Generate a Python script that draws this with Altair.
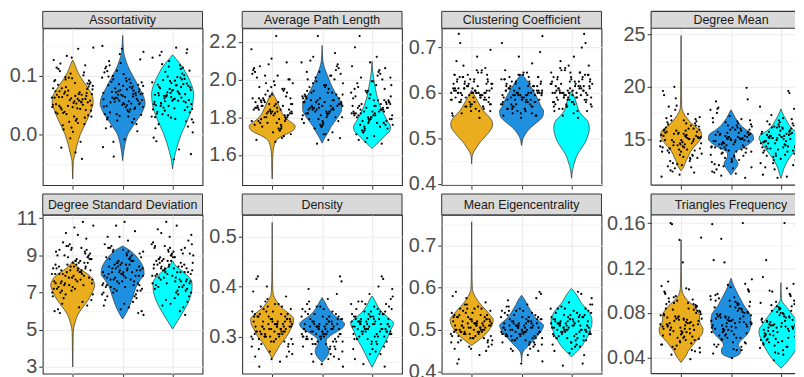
import json
import altair as alt
import pandas as pd

# ---------------- data ----------------
PANEL_TITLES = ["Assortativity", "Average Path Length", "Clustering Coefficient", "Degree Mean",
                "Degree Standard Deviation", "Density", "Mean Eigencentrality", "Triangles Frequency"]
GROUP_NAMES = ["Group 1", "Group 2", "Group 3"]
GROUP_COLORS = ["#EAAD1E", "#1F90E0", "#00FFFF"]

Y_DOMAINS = [[-0.0855, 0.181], [1.441, 2.271], [0.397, 0.7425], [10.6, 25.6],
             [2.64, 11.18], [0.226, 0.543], [0.396, 0.7726], [0.0261, 0.1673]]
Y_MAJOR = [[0.0, 0.1], [1.6, 1.8, 2.0, 2.2], [0.4, 0.5, 0.6, 0.7], [15, 20, 25],
           [3, 5, 7, 9, 11], [0.3, 0.4, 0.5], [0.4, 0.5, 0.6, 0.7], [0.04, 0.08, 0.12, 0.16]]
Y_MINOR = [[-0.05, 0.05, 0.15], [1.5, 1.7, 1.9, 2.1], [0.45, 0.55, 0.65], [12.5, 17.5, 22.5],
           [4, 6, 8, 10], [0.25, 0.35, 0.45], [0.45, 0.55, 0.65, 0.75], [0.06, 0.1, 0.14]]
Y_FORMAT = [".1f", ".1f", ".1f", "d", "d", ".1f", ".1f", ".2f"]

# violin outlines: (value, half width in group units)
assort_vio_a = [(-0.075, 0.0), (-0.06, 0.006), (-0.045, 0.012), (-0.035, 0.04), (-0.02, 0.08), (0.0, 0.15),
                (0.02, 0.26), (0.04, 0.36), (0.055, 0.41), (0.065, 0.40), (0.075, 0.34), (0.09, 0.22),
                (0.105, 0.11), (0.12, 0.04), (0.127, 0.0)]
assort_vio_b = [(-0.044, 0.0), (-0.03, 0.02), (-0.015, 0.05), (0.0, 0.1), (0.02, 0.25), (0.04, 0.40),
                (0.053, 0.45), (0.065, 0.42), (0.08, 0.33), (0.095, 0.24), (0.11, 0.14), (0.125, 0.07),
                (0.14, 0.02), (0.155, 0.008), (0.169, 0.0)]
assort_vio_c = [(-0.058, 0.0), (-0.045, 0.02), (-0.03, 0.06), (-0.015, 0.11), (0.0, 0.17), (0.025, 0.30),
                (0.05, 0.40), (0.07, 0.42), (0.085, 0.38), (0.1, 0.30), (0.115, 0.2), (0.128, 0.08),
                (0.136, 0.0)]
apl_vio_a = [(1.473, 0.0), (1.52, 0.008), (1.58, 0.01), (1.62, 0.02), (1.65, 0.04), (1.68, 0.09), (1.70, 0.2),
             (1.72, 0.36), (1.74, 0.45), (1.755, 0.46), (1.77, 0.40), (1.79, 0.30), (1.81, 0.23), (1.84, 0.17),
             (1.87, 0.12), (1.90, 0.07), (1.92, 0.03), (1.935, 0.0)]
apl_vio_b = [(1.663, 0.0), (1.69, 0.05), (1.72, 0.12), (1.75, 0.18), (1.78, 0.26), (1.81, 0.34), (1.84, 0.39),
             (1.87, 0.39), (1.90, 0.33), (1.94, 0.24), (1.98, 0.17), (2.02, 0.11), (2.06, 0.05), (2.1, 0.015),
             (2.18, 0.0)]
apl_vio_c = [(1.634, 0.0), (1.65, 0.06), (1.67, 0.14), (1.70, 0.25), (1.73, 0.36), (1.75, 0.37), (1.78, 0.31),
             (1.82, 0.23), (1.86, 0.16), (1.90, 0.11), (1.95, 0.07), (2.0, 0.035), (2.05, 0.01), (2.096, 0.0)]
cc_vio_a = [(0.444, 0.0), (0.46, 0.01), (0.47, 0.04), (0.48, 0.1), (0.49, 0.16), (0.50, 0.24), (0.51, 0.32),
            (0.52, 0.39), (0.53, 0.42), (0.54, 0.40), (0.55, 0.33), (0.56, 0.24), (0.57, 0.18), (0.58, 0.13),
            (0.59, 0.08), (0.60, 0.03), (0.606, 0.0)]
cc_vio_b = [(0.484, 0.0), (0.49, 0.01), (0.50, 0.03), (0.51, 0.08), (0.52, 0.15), (0.53, 0.25), (0.54, 0.36),
            (0.55, 0.43), (0.56, 0.44), (0.57, 0.39), (0.58, 0.35), (0.59, 0.31), (0.60, 0.26), (0.61, 0.21),
            (0.62, 0.15), (0.63, 0.09), (0.641, 0.0)]
cc_vio_c = [(0.412, 0.0), (0.43, 0.02), (0.44, 0.04), (0.45, 0.07), (0.46, 0.10), (0.47, 0.15), (0.48, 0.21),
            (0.49, 0.27), (0.50, 0.31), (0.51, 0.34), (0.52, 0.355), (0.53, 0.35), (0.54, 0.31), (0.55, 0.22),
            (0.56, 0.15), (0.57, 0.12), (0.58, 0.09), (0.59, 0.06), (0.605, 0.0)]
dm_vio_a = [(11.97, 0.0), (12.3, 0.05), (12.8, 0.09), (13.3, 0.14), (13.8, 0.19), (14.3, 0.27), (14.8, 0.36),
            (15.3, 0.41), (15.7, 0.40), (16.1, 0.31), (16.5, 0.21), (17.0, 0.12), (17.5, 0.05), (18.0, 0.015),
            (19.0, 0.008), (24.9, 0.0)]
dm_vio_b = [(11.56, 0.0), (11.9, 0.05), (12.3, 0.11), (12.6, 0.14), (12.9, 0.12), (13.3, 0.07), (13.6, 0.07),
            (13.9, 0.12), (14.2, 0.25), (14.6, 0.38), (15.0, 0.45), (15.4, 0.44), (15.8, 0.33), (16.2, 0.22),
            (16.6, 0.15), (17.0, 0.09), (17.4, 0.045), (17.8, 0.0)]
dm_vio_c = [(11.25, 0.0), (11.7, 0.03), (12.2, 0.06), (12.7, 0.11), (13.2, 0.17), (13.7, 0.25), (14.2, 0.33),
            (14.7, 0.40), (15.1, 0.44), (15.5, 0.38), (15.9, 0.25), (16.3, 0.17), (16.8, 0.11), (17.3, 0.05),
            (17.9, 0.0)]
dsd_vio_a = [(3.0, 0.0), (4.0, 0.006), (4.8, 0.01), (5.1, 0.02), (5.4, 0.05), (5.8, 0.1), (6.2, 0.2),
             (6.6, 0.31), (7.0, 0.39), (7.4, 0.44), (7.7, 0.40), (8.0, 0.30), (8.2, 0.18), (8.45, 0.07),
             (8.7, 0.0)]
dsd_vio_b = [(5.58, 0.0), (5.8, 0.05), (6.1, 0.11), (6.5, 0.17), (6.9, 0.22), (7.3, 0.27), (7.7, 0.36),
             (8.0, 0.43), (8.3, 0.42), (8.6, 0.37), (8.9, 0.29), (9.2, 0.18), (9.4, 0.07), (9.5, 0.0)]
dsd_vio_c = [(5.04, 0.0), (5.3, 0.06), (5.6, 0.13), (6.0, 0.22), (6.4, 0.30), (6.8, 0.36), (7.2, 0.39),
             (7.5, 0.39), (7.8, 0.34), (8.1, 0.22), (8.4, 0.08), (8.7, 0.0)]
dens_vio_a = [(0.256, 0.0), (0.265, 0.05), (0.275, 0.11), (0.285, 0.17), (0.295, 0.25), (0.305, 0.32),
              (0.315, 0.37), (0.325, 0.42), (0.335, 0.43), (0.345, 0.35), (0.355, 0.22), (0.365, 0.13),
              (0.375, 0.06), (0.39, 0.015), (0.41, 0.008), (0.528, 0.0)]
dens_vio_b = [(0.249, 0.0), (0.255, 0.06), (0.262, 0.11), (0.27, 0.14), (0.278, 0.12), (0.286, 0.08),
              (0.294, 0.09), (0.302, 0.17), (0.31, 0.30), (0.318, 0.42), (0.325, 0.45), (0.333, 0.38),
              (0.341, 0.26), (0.35, 0.17), (0.36, 0.1), (0.37, 0.05), (0.378, 0.0)]
dens_vio_c = [(0.239, 0.0), (0.248, 0.05), (0.258, 0.1), (0.268, 0.15), (0.278, 0.2), (0.29, 0.27),
              (0.3, 0.32), (0.31, 0.36), (0.32, 0.41), (0.327, 0.43), (0.335, 0.36), (0.345, 0.24),
              (0.355, 0.15), (0.365, 0.09), (0.375, 0.04), (0.381, 0.0)]
me_vio_a = [(0.463, 0.0), (0.468, 0.06), (0.475, 0.14), (0.485, 0.24), (0.495, 0.32), (0.505, 0.38),
            (0.515, 0.42), (0.525, 0.43), (0.535, 0.37), (0.545, 0.30), (0.555, 0.22), (0.565, 0.15),
            (0.575, 0.09), (0.585, 0.045), (0.595, 0.015), (0.62, 0.008), (0.756, 0.0)]
me_vio_b = [(0.424, 0.0), (0.44, 0.01), (0.45, 0.04), (0.46, 0.12), (0.47, 0.2), (0.48, 0.28), (0.49, 0.35),
            (0.5, 0.41), (0.51, 0.44), (0.52, 0.36), (0.53, 0.27), (0.54, 0.21), (0.55, 0.16), (0.56, 0.11),
            (0.57, 0.07), (0.582, 0.0)]
me_vio_c = [(0.436, 0.0), (0.445, 0.08), (0.455, 0.16), (0.465, 0.23), (0.475, 0.28), (0.485, 0.33),
            (0.495, 0.36), (0.505, 0.39), (0.515, 0.41), (0.525, 0.41), (0.535, 0.38), (0.545, 0.33),
            (0.555, 0.26), (0.565, 0.19), (0.575, 0.14), (0.585, 0.09), (0.598, 0.0)]
tf_vio_a = [(0.036, 0.0), (0.039, 0.05), (0.042, 0.1), (0.046, 0.14), (0.05, 0.21), (0.054, 0.28), (0.058, 0.36),
            (0.062, 0.43), (0.066, 0.44), (0.07, 0.39), (0.074, 0.37), (0.078, 0.37), (0.082, 0.33),
            (0.086, 0.26), (0.09, 0.16), (0.094, 0.08), (0.098, 0.03), (0.105, 0.01), (0.145, 0.0)]
tf_vio_b = [(0.04, 0.0), (0.042, 0.12), (0.045, 0.19), (0.048, 0.19), (0.051, 0.15), (0.054, 0.17), (0.058, 0.26),
            (0.062, 0.34), (0.066, 0.38), (0.07, 0.40), (0.074, 0.40), (0.078, 0.39), (0.082, 0.34),
            (0.086, 0.27), (0.09, 0.22), (0.095, 0.16), (0.1, 0.1), (0.105, 0.05), (0.111, 0.0)]
tf_vio_c = [(0.031, 0.0), (0.034, 0.07), (0.038, 0.15), (0.042, 0.22), (0.046, 0.28), (0.05, 0.33), (0.054, 0.37),
            (0.058, 0.41), (0.062, 0.44), (0.066, 0.43), (0.07, 0.37), (0.074, 0.31), (0.078, 0.24),
            (0.082, 0.17), (0.086, 0.1), (0.089, 0.04), (0.093, 0.01), (0.107, 0.0)]

# jittered points
assort_pts_a = [0.061, 0.043, 0.087, 0.012, 0.074, 0.055, 0.098, 0.031, 0.066, 0.049, 0.118, 0.022, 0.079, 0.058,
                0.037, 0.092, 0.005, 0.068, 0.051, 0.134, 0.083, 0.027, 0.046, 0.071, 0.104, 0.063, -0.012, 0.039,
                0.089, 0.057, 0.112, 0.018, 0.075, 0.047, 0.146, 0.064, 0.033, 0.096, 0.052, -0.041, 0.081, 0.069,
                0.024, 0.108, 0.042, 0.059, 0.127, 0.072, 0.009, 0.086, 0.054, 0.036, 0.101, 0.067, 0.148, 0.045,
                -0.022, 0.078, 0.062, 0.093, 0.056, 0.073, 0.041, 0.088, 0.064, 0.029, 0.097, 0.051, 0.069, 0.016,
                0.082, 0.047, 0.114, 0.06, 0.035, 0.077, 0.053, 0.121, 0.066, -0.006, 0.091, 0.044, 0.07, 0.058,
                0.031, 0.085, 0.106, 0.049, 0.063, 0.02, 0.079, 0.055, 0.131, 0.038, 0.068, 0.094, 0.05, -0.03,
                0.074, 0.061]
assort_pts_b = [0.058, 0.071, 0.039, 0.094, 0.052, 0.083, 0.026, 0.065, 0.109, 0.047, 0.077, 0.014, 0.061, 0.122,
                0.035, 0.088, 0.056, 0.069, -0.008, 0.099, 0.044, 0.074, 0.151, 0.031, 0.063, 0.085, 0.051, 0.116,
                0.021, 0.072, 0.059, 0.096, 0.038, 0.067, 0.137, 0.048, 0.081, -0.037, 0.054, 0.103, 0.029, 0.075,
                0.062, 0.141, 0.042, 0.09, 0.006, 0.068, 0.113, 0.053, 0.079, 0.034, 0.064, 0.125, 0.046, 0.086,
                -0.021, 0.057, 0.1, 0.073, 0.066, 0.049, 0.082, 0.035, 0.07, 0.091, 0.055, 0.018, 0.076, 0.106,
                0.043, 0.061, 0.128, 0.052, 0.084, 0.027, 0.068, 0.097, 0.04, 0.073, 0.058, 0.146, 0.011, 0.079,
                0.063, 0.089, 0.047, 0.118, 0.071, 0.032, 0.06, 0.094, -0.012, 0.077, 0.054, 0.108, 0.069, 0.024,
                0.083, 0.05]
assort_pts_c = [0.054, 0.087, 0.029, 0.068, 0.112, 0.041, 0.076, 0.061, 0.018, 0.095, 0.049, 0.131, 0.072, 0.035,
                0.083, 0.058, -0.011, 0.104, 0.065, 0.044, 0.148, 0.079, 0.023, 0.091, 0.052, 0.118, 0.066, 0.038,
                -0.042, 0.085, 0.057, 0.099, 0.031, 0.074, 0.141, 0.047, 0.088, 0.011, 0.063, 0.107, 0.052, 0.027,
                0.081, 0.069, 0.125, 0.043, -0.025, 0.093, 0.059, 0.076, 0.036, 0.114, 0.067, 0.004, 0.084, 0.049,
                0.139, 0.071, 0.056, 0.097, 0.062, 0.08, 0.045, 0.071, 0.101, 0.033, 0.089, 0.058, 0.12, 0.014,
                0.075, 0.05, 0.094, 0.066, 0.026, 0.084, 0.135, 0.055, 0.078, -0.005, 0.069, 0.046, 0.109, 0.06,
                0.039, 0.086, 0.072, 0.021, 0.098, 0.053, 0.145, 0.064, 0.03, 0.081, 0.057, -0.033, 0.092, 0.067,
                0.042, 0.116]
apl_pts_a = [1.85, 1.79, 1.93, 1.82, 2.04, 1.76, 1.88, 1.71, 1.97, 1.84, 1.81, 2.08, 1.9, 1.74, 1.86, 2.0, 1.83,
             1.68, 1.95, 1.8, 1.87, 2.23, 1.77, 1.91, 1.84, 2.06, 1.73, 1.89, 1.82, 1.99, 1.85, 1.7, 1.94, 1.78,
             2.02, 1.86, 1.81, 2.11, 1.88, 1.75, 1.92, 1.83, 1.67, 1.96, 1.8, 1.87, 2.05, 1.79, 1.9, 1.84, 1.72,
             2.01, 1.86, 1.82, 1.98, 1.77, 1.89, 2.09, 1.83, 1.76, 1.84, 1.8, 1.9, 1.86, 1.78, 1.95, 1.83, 2.03,
             1.88, 1.75, 1.81, 1.92, 1.85, 1.69, 1.98, 1.82, 1.87, 2.07, 1.79, 1.91, 1.84, 1.73, 1.89, 2.0, 1.81,
             1.86, 1.94, 1.77, 2.16, 1.83, 1.88, 1.8, 1.96, 1.85, 1.74, 2.02, 1.87, 1.82, 1.9, 1.78]
apl_pts_b = [1.87, 1.81, 1.95, 1.84, 2.06, 1.78, 1.9, 1.72, 1.99, 1.86, 1.83, 2.1, 1.92, 1.76, 1.88, 2.02, 1.85,
             1.69, 1.97, 1.82, 1.89, 2.23, 1.79, 1.93, 1.86, 2.08, 1.75, 1.91, 1.84, 2.01, 1.87, 1.71, 1.96, 1.8,
             2.04, 1.88, 1.83, 2.12, 1.9, 1.77, 1.94, 1.85, 1.66, 1.98, 1.82, 1.89, 2.07, 1.81, 1.92, 1.86, 1.74,
             2.03, 1.88, 1.84, 2.0, 1.79, 1.91, 1.68, 1.85, 1.78, 1.86, 1.82, 1.93, 1.88, 1.8, 1.97, 1.85, 2.05,
             1.9, 1.77, 1.83, 1.94, 1.87, 1.71, 2.0, 1.84, 1.89, 2.09, 1.81, 1.93, 1.86, 1.75, 1.91, 2.02, 1.83,
             1.88, 1.96, 1.79, 2.14, 1.85, 1.9, 1.82, 1.98, 1.87, 1.76, 2.04, 1.89, 1.84, 1.92, 1.8]
apl_pts_c = [1.84, 1.78, 1.92, 1.81, 2.03, 1.75, 1.87, 1.7, 1.96, 1.83, 1.8, 2.07, 1.89, 1.73, 1.85, 1.99, 1.82,
             1.66, 1.94, 1.79, 1.86, 2.23, 1.76, 1.9, 1.83, 2.05, 1.72, 1.88, 1.81, 1.98, 1.84, 1.69, 1.93, 1.77,
             2.01, 1.85, 1.8, 2.17, 1.87, 1.74, 1.91, 1.82, 1.68, 1.95, 1.79, 1.86, 2.04, 1.78, 1.89, 1.83, 1.71,
             2.0, 1.85, 1.81, 1.97, 1.76, 1.88, 2.09, 1.82, 1.75, 1.83, 1.79, 1.89, 1.85, 1.77, 1.94, 1.82, 2.02,
             1.87, 1.74, 1.8, 1.91, 1.84, 1.67, 1.97, 1.81, 1.86, 2.06, 1.78, 1.9, 1.83, 1.72, 1.88, 1.99, 1.8,
             1.85, 1.93, 1.76, 2.12, 1.82, 1.87, 1.79, 1.95, 1.84, 1.73, 2.01, 1.86, 1.81, 1.89, 1.77]
cc_pts_a = [0.6, 0.58, 0.62, 0.57, 0.64, 0.59, 0.61, 0.56, 0.63, 0.6, 0.585, 0.615, 0.555, 0.645, 0.595, 0.625,
            0.575, 0.605, 0.65, 0.59, 0.61, 0.565, 0.635, 0.6, 0.58, 0.62, 0.545, 0.66, 0.605, 0.59, 0.63, 0.57,
            0.615, 0.6, 0.68, 0.585, 0.64, 0.56, 0.61, 0.595, 0.625, 0.575, 0.605, 0.73, 0.59, 0.62, 0.55, 0.6,
            0.635, 0.58, 0.61, 0.67, 0.595, 0.57, 0.62, 0.6, 0.71, 0.585, 0.63, 0.605, 0.595, 0.61, 0.575, 0.625,
            0.6, 0.565, 0.64, 0.585, 0.615, 0.555, 0.63, 0.6, 0.59, 0.645, 0.57, 0.62, 0.605, 0.58, 0.655, 0.595,
            0.61, 0.56, 0.635, 0.59, 0.6, 0.625, 0.57, 0.615, 0.585, 0.65, 0.6, 0.605, 0.575, 0.64, 0.59, 0.62,
            0.695, 0.58, 0.61, 0.6]
cc_pts_b = [0.595, 0.575, 0.615, 0.565, 0.635, 0.585, 0.605, 0.555, 0.625, 0.6, 0.58, 0.61, 0.55, 0.64, 0.59,
            0.62, 0.57, 0.6, 0.645, 0.585, 0.605, 0.56, 0.63, 0.595, 0.575, 0.615, 0.545, 0.65, 0.6, 0.585, 0.625,
            0.565, 0.61, 0.595, 0.68, 0.58, 0.635, 0.555, 0.605, 0.59, 0.62, 0.57, 0.6, 0.725, 0.585, 0.615, 0.55,
            0.595, 0.63, 0.575, 0.605, 0.69, 0.59, 0.565, 0.615, 0.6, 0.71, 0.58, 0.625, 0.6, 0.59, 0.605, 0.57,
            0.62, 0.595, 0.56, 0.635, 0.58, 0.61, 0.55, 0.625, 0.595, 0.585, 0.64, 0.565, 0.615, 0.6, 0.575, 0.645,
            0.59, 0.605, 0.555, 0.63, 0.585, 0.595, 0.62, 0.565, 0.61, 0.58, 0.64, 0.595, 0.6, 0.57, 0.635, 0.585,
            0.615, 0.665, 0.575, 0.605, 0.595]
cc_pts_c = [0.6, 0.58, 0.625, 0.57, 0.645, 0.59, 0.61, 0.555, 0.635, 0.605, 0.585, 0.62, 0.56, 0.65, 0.595, 0.63,
            0.575, 0.61, 0.655, 0.59, 0.615, 0.565, 0.64, 0.6, 0.58, 0.625, 0.55, 0.66, 0.605, 0.59, 0.635, 0.57,
            0.62, 0.6, 0.67, 0.585, 0.645, 0.56, 0.615, 0.595, 0.63, 0.575, 0.61, 0.73, 0.59, 0.625, 0.545, 0.6,
            0.64, 0.58, 0.615, 0.7, 0.595, 0.57, 0.62, 0.605, 0.71, 0.585, 0.635, 0.61, 0.6, 0.615, 0.58, 0.63,
            0.605, 0.57, 0.645, 0.59, 0.62, 0.56, 0.635, 0.6, 0.595, 0.65, 0.575, 0.625, 0.61, 0.585, 0.66, 0.6,
            0.615, 0.565, 0.64, 0.595, 0.605, 0.63, 0.575, 0.62, 0.59, 0.655, 0.6, 0.61, 0.58, 0.645, 0.59, 0.625,
            0.68, 0.585, 0.615, 0.605]
dm_pts_a = [15.2, 14.1, 16.3, 13.5, 15.8, 12.9, 14.7, 17.1, 15.5, 13.9, 16.0, 14.4, 11.4, 15.1, 16.8, 13.2, 14.9,
            15.6, 12.3, 17.8, 14.6, 15.3, 13.7, 16.5, 14.0, 19.6, 15.0, 12.7, 16.2, 14.3, 15.7, 13.4, 18.2, 14.8,
            15.4, 12.0, 16.7, 14.5, 15.9, 13.1, 20.0, 15.1, 14.2, 16.4, 11.8, 15.5, 13.8, 17.4, 14.9, 15.2, 12.5,
            16.1, 14.6, 18.9, 13.6, 15.8, 14.1, 16.9, 11.6, 15.3, 15.0, 14.4, 15.9, 13.3, 16.6, 14.8, 12.6, 15.4,
            14.0, 17.2, 15.7, 13.8, 14.9, 16.3, 12.2, 15.2, 14.5, 18.1, 13.9, 15.6, 14.2, 16.0, 11.9, 15.1, 14.7,
            17.0, 13.5, 15.8, 14.3, 16.5, 12.9, 15.3, 14.6, 19.2, 13.2, 15.5, 14.1, 16.8, 12.4, 15.0]
dm_pts_b = [15.0, 14.3, 16.1, 13.6, 15.6, 12.8, 14.8, 16.9, 15.3, 13.8, 15.9, 14.5, 11.3, 15.2, 16.6, 13.0, 14.7,
            15.4, 12.2, 17.5, 14.4, 15.1, 13.5, 16.3, 14.1, 19.9, 15.0, 12.6, 16.0, 14.2, 15.5, 13.3, 18.0, 14.9,
            15.2, 11.9, 16.5, 14.6, 15.7, 12.9, 18.6, 15.0, 14.0, 16.2, 11.7, 15.4, 13.7, 17.2, 14.8, 15.1, 12.4,
            15.9, 14.5, 17.9, 13.4, 15.6, 14.2, 16.7, 11.5, 15.2, 14.9, 14.2, 15.8, 13.2, 16.4, 14.7, 12.5, 15.3,
            13.9, 17.0, 15.6, 13.7, 14.8, 16.1, 12.1, 15.1, 14.4, 17.8, 13.8, 15.5, 14.1, 15.9, 11.8, 15.0, 14.6,
            16.8, 13.4, 15.7, 14.2, 16.3, 12.8, 15.2, 14.5, 18.8, 13.1, 15.4, 14.0, 16.6, 12.3, 14.9]
dm_pts_c = [15.1, 14.2, 16.2, 13.7, 15.7, 12.7, 14.9, 17.0, 15.4, 13.9, 16.1, 14.6, 11.4, 15.3, 16.7, 13.1, 14.8,
            15.5, 12.1, 17.6, 14.5, 15.2, 13.6, 16.4, 14.2, 19.6, 15.1, 12.5, 16.1, 14.3, 15.6, 13.4, 18.1, 14.8,
            15.3, 11.8, 16.6, 14.7, 15.8, 13.0, 20.0, 15.0, 14.1, 16.3, 11.3, 15.5, 13.8, 17.3, 14.9, 15.2, 12.3,
            16.0, 14.6, 18.4, 13.5, 15.7, 14.3, 16.8, 11.6, 15.4, 15.1, 14.3, 16.0, 13.4, 16.5, 14.9, 12.7, 15.5,
            14.1, 17.1, 15.8, 13.9, 15.0, 16.2, 12.3, 15.3, 14.6, 17.9, 14.0, 15.7, 14.3, 16.1, 12.0, 15.2, 14.8,
            16.9, 13.6, 15.9, 14.4, 16.4, 13.0, 15.4, 14.7, 19.4, 13.3, 15.6, 14.2, 16.7, 12.5, 15.1]
dsd_pts_a = [8.2, 7.6, 8.9, 7.1, 8.5, 9.4, 7.9, 6.6, 8.7, 8.0, 9.1, 7.4, 8.3, 6.2, 9.7, 7.8, 8.6, 7.2, 10.8, 8.1,
             6.9, 8.8, 7.5, 9.3, 8.4, 6.0, 7.7, 9.0, 8.2, 10.5, 7.3, 8.6, 9.5, 7.0, 8.3, 6.4, 8.9, 7.8, 9.2, 8.0,
             10.2, 7.5, 8.7, 5.9, 8.4, 9.6, 7.2, 8.1, 6.7, 8.8, 7.9, 9.0, 7.4, 8.5, 10.6, 7.6, 8.2, 6.3, 9.3, 8.0,
             8.1, 7.5, 8.8, 7.2, 8.4, 9.2, 7.8, 6.8, 8.6, 8.0, 9.0, 7.3, 8.3, 6.5, 9.5, 7.7, 8.5, 7.0, 9.9, 8.2,
             7.6, 8.7, 7.4, 9.1, 8.4, 6.1, 7.9, 8.9, 8.0, 10.1, 7.1, 8.6, 9.4, 7.5, 8.2, 6.9, 8.8, 7.7, 9.3, 8.3]
dsd_pts_b = [8.1, 7.5, 8.8, 7.0, 8.4, 9.3, 7.8, 6.5, 8.6, 7.9, 9.0, 7.3, 8.2, 6.1, 9.6, 7.7, 8.5, 7.1, 10.8, 8.0,
             6.8, 8.7, 7.4, 9.2, 8.3, 5.9, 7.6, 8.9, 8.1, 10.6, 7.2, 8.5, 9.4, 6.9, 8.2, 6.3, 8.8, 7.7, 9.1, 7.9,
             10.0, 7.4, 8.6, 5.8, 8.3, 9.5, 7.1, 8.0, 6.6, 8.7, 7.8, 8.9, 7.3, 8.4, 10.3, 7.5, 8.1, 6.2, 9.2, 7.9,
             8.0, 7.4, 8.7, 7.1, 8.3, 9.1, 7.7, 6.7, 8.5, 7.9, 8.9, 7.2, 8.2, 6.4, 9.4, 7.6, 8.4, 6.9, 9.8, 8.1,
             7.5, 8.6, 7.3, 9.0, 8.3, 6.0, 7.8, 8.8, 7.9, 10.0, 7.0, 8.5, 9.3, 7.4, 8.1, 6.8, 8.7, 7.6, 9.2, 8.2]
dsd_pts_c = [8.3, 7.7, 9.0, 7.2, 8.6, 9.5, 8.0, 6.7, 8.8, 8.1, 9.2, 7.5, 8.4, 6.3, 9.8, 7.9, 8.7, 7.3, 10.8, 8.2,
             7.0, 8.9, 7.6, 9.4, 8.5, 6.0, 7.8, 9.1, 8.3, 10.4, 7.4, 8.7, 9.6, 7.1, 8.4, 6.5, 9.0, 7.9, 9.3, 8.1,
             10.1, 7.6, 8.8, 5.8, 8.5, 9.7, 7.3, 8.2, 6.8, 8.9, 8.0, 9.1, 7.5, 8.6, 10.6, 7.7, 8.3, 6.4, 9.4, 8.1,
             8.2, 7.6, 8.9, 7.3, 8.5, 9.3, 7.9, 6.9, 8.7, 8.1, 9.1, 7.4, 8.4, 6.6, 9.6, 7.8, 8.6, 7.1, 10.0, 8.3,
             7.7, 8.8, 7.5, 9.2, 8.5, 6.2, 8.0, 9.0, 8.1, 10.2, 7.2, 8.7, 9.5, 7.6, 8.3, 7.0, 8.9, 7.8, 9.4, 8.4]
dens_pts_a = [0.32, 0.305, 0.335, 0.29, 0.345, 0.315, 0.3, 0.355, 0.325, 0.275, 0.31, 0.34, 0.295, 0.365, 0.32,
              0.285, 0.33, 0.415, 0.305, 0.35, 0.265, 0.325, 0.31, 0.38, 0.3, 0.34, 0.25, 0.315, 0.335, 0.29,
              0.42, 0.32, 0.36, 0.28, 0.33, 0.305, 0.345, 0.255, 0.32, 0.31, 0.37, 0.295, 0.325, 0.24, 0.34,
              0.315, 0.39, 0.3, 0.33, 0.27, 0.35, 0.31, 0.325, 0.4, 0.285, 0.32, 0.36, 0.26, 0.335, 0.305,
              0.315, 0.3, 0.33, 0.31, 0.34, 0.29, 0.325, 0.35, 0.305, 0.32, 0.28, 0.335, 0.31, 0.36, 0.3, 0.325,
              0.295, 0.345, 0.315, 0.27, 0.33, 0.305, 0.355, 0.32, 0.29, 0.34, 0.31, 0.375, 0.3, 0.325, 0.285,
              0.335, 0.315, 0.26, 0.345, 0.305, 0.32, 0.365, 0.295, 0.33]
dens_pts_b = [0.315, 0.3, 0.33, 0.285, 0.34, 0.31, 0.295, 0.35, 0.32, 0.27, 0.305, 0.335, 0.29, 0.36, 0.315,
              0.28, 0.325, 0.42, 0.3, 0.345, 0.26, 0.32, 0.305, 0.375, 0.295, 0.335, 0.245, 0.31, 0.33, 0.285,
              0.41, 0.315, 0.355, 0.275, 0.325, 0.3, 0.34, 0.25, 0.315, 0.305, 0.365, 0.29, 0.32, 0.24, 0.335,
              0.31, 0.385, 0.295, 0.325, 0.265, 0.345, 0.305, 0.32, 0.395, 0.28, 0.315, 0.355, 0.255, 0.33, 0.3,
              0.31, 0.295, 0.325, 0.305, 0.335, 0.285, 0.32, 0.345, 0.3, 0.315, 0.275, 0.33, 0.305, 0.355, 0.295,
              0.32, 0.29, 0.34, 0.31, 0.265, 0.325, 0.3, 0.35, 0.315, 0.285, 0.335, 0.305, 0.37, 0.295, 0.32, 0.28,
              0.33, 0.31, 0.255, 0.34, 0.3, 0.315, 0.36, 0.29, 0.325]
dens_pts_c = [0.325, 0.31, 0.34, 0.295, 0.35, 0.32, 0.305, 0.36, 0.33, 0.28, 0.315, 0.345, 0.3, 0.37, 0.325,
              0.29, 0.335, 0.42, 0.31, 0.355, 0.27, 0.33, 0.315, 0.385, 0.305, 0.345, 0.245, 0.32, 0.34, 0.295,
              0.415, 0.325, 0.365, 0.285, 0.335, 0.31, 0.35, 0.255, 0.325, 0.315, 0.375, 0.3, 0.33, 0.24, 0.345,
              0.32, 0.4, 0.305, 0.335, 0.275, 0.355, 0.315, 0.33, 0.395, 0.29, 0.325, 0.365, 0.265, 0.34, 0.31,
              0.32, 0.305, 0.335, 0.315, 0.345, 0.295, 0.33, 0.355, 0.31, 0.325, 0.285, 0.34, 0.315, 0.365, 0.305,
              0.33, 0.3, 0.35, 0.32, 0.275, 0.335, 0.31, 0.36, 0.325, 0.295, 0.345, 0.315, 0.38, 0.305, 0.33, 0.29,
              0.34, 0.32, 0.265, 0.35, 0.31, 0.325, 0.37, 0.3, 0.335]
me_pts_a = [0.51, 0.495, 0.525, 0.48, 0.535, 0.505, 0.49, 0.545, 0.515, 0.47, 0.5, 0.53, 0.485, 0.555, 0.51,
            0.475, 0.52, 0.59, 0.495, 0.54, 0.465, 0.515, 0.5, 0.565, 0.49, 0.53, 0.44, 0.505, 0.525, 0.48, 0.42,
            0.51, 0.55, 0.47, 0.52, 0.495, 0.535, 0.455, 0.51, 0.5, 0.56, 0.485, 0.515, 0.43, 0.53, 0.505, 0.58,
            0.49, 0.52, 0.46, 0.54, 0.5, 0.515, 0.575, 0.475, 0.51, 0.55, 0.45, 0.525, 0.495, 0.505, 0.49, 0.52,
            0.5, 0.53, 0.48, 0.515, 0.54, 0.495, 0.51, 0.47, 0.525, 0.5, 0.55, 0.49, 0.515, 0.485, 0.535, 0.505,
            0.46, 0.52, 0.495, 0.545, 0.51, 0.48, 0.53, 0.5, 0.56, 0.49, 0.515, 0.475, 0.525, 0.505, 0.455, 0.535,
            0.495, 0.51, 0.55, 0.485, 0.52]
me_pts_b = [0.505, 0.49, 0.52, 0.475, 0.53, 0.5, 0.485, 0.54, 0.51, 0.465, 0.495, 0.525, 0.48, 0.55, 0.505, 0.47,
            0.515, 0.59, 0.49, 0.535, 0.46, 0.51, 0.495, 0.56, 0.485, 0.525, 0.42, 0.5, 0.52, 0.475, 0.585, 0.505,
            0.545, 0.465, 0.515, 0.49, 0.53, 0.45, 0.505, 0.495, 0.555, 0.48, 0.51, 0.425, 0.525, 0.5, 0.575,
            0.485, 0.515, 0.455, 0.535, 0.495, 0.51, 0.57, 0.47, 0.505, 0.545, 0.44, 0.52, 0.49, 0.5, 0.485, 0.515,
            0.495, 0.525, 0.475, 0.51, 0.535, 0.49, 0.505, 0.465, 0.52, 0.495, 0.545, 0.485, 0.51, 0.48, 0.53,
            0.5, 0.455, 0.515, 0.49, 0.54, 0.505, 0.475, 0.525, 0.495, 0.555, 0.485, 0.51, 0.47, 0.52, 0.5, 0.45,
            0.53, 0.49, 0.505, 0.545, 0.48, 0.515]
me_pts_c = [0.51, 0.5, 0.525, 0.485, 0.535, 0.505, 0.49, 0.545, 0.515, 0.475, 0.5, 0.53, 0.48, 0.555, 0.51, 0.47,
            0.52, 0.585, 0.495, 0.54, 0.46, 0.515, 0.5, 0.565, 0.49, 0.53, 0.415, 0.505, 0.525, 0.48, 0.42, 0.51,
            0.55, 0.465, 0.52, 0.495, 0.535, 0.45, 0.51, 0.5, 0.56, 0.485, 0.515, 0.44, 0.53, 0.505, 0.59, 0.49,
            0.52, 0.455, 0.54, 0.5, 0.515, 0.575, 0.475, 0.51, 0.55, 0.445, 0.525, 0.495, 0.505, 0.49, 0.52, 0.5,
            0.53, 0.48, 0.515, 0.54, 0.495, 0.51, 0.47, 0.525, 0.5, 0.55, 0.49, 0.515, 0.485, 0.535, 0.505, 0.465,
            0.52, 0.495, 0.545, 0.51, 0.48, 0.53, 0.5, 0.56, 0.49, 0.515, 0.475, 0.525, 0.505, 0.46, 0.535, 0.495,
            0.51, 0.55, 0.485, 0.52]
tf_pts_a = [0.072, 0.061, 0.085, 0.055, 0.079, 0.066, 0.094, 0.049, 0.075, 0.068, 0.088, 0.058, 0.104, 0.071,
            0.043, 0.082, 0.064, 0.097, 0.053, 0.077, 0.147, 0.069, 0.09, 0.046, 0.074, 0.06, 0.101, 0.083, 0.057,
            0.125, 0.07, 0.092, 0.051, 0.078, 0.063, 0.16, 0.086, 0.067, 0.099, 0.039, 0.073, 0.081, 0.059, 0.108,
            0.065, 0.076, 0.052, 0.089, 0.159, 0.07, 0.062, 0.084, 0.047, 0.095, 0.075, 0.056, 0.071, 0.087,
            0.145, 0.066, 0.071, 0.064, 0.082, 0.058, 0.076, 0.069, 0.091, 0.052, 0.074, 0.067, 0.086, 0.061,
            0.098, 0.072, 0.048, 0.079, 0.066, 0.093, 0.056, 0.077, 0.068, 0.084, 0.05, 0.073, 0.063, 0.088,
            0.059, 0.075, 0.07, 0.102, 0.065, 0.08, 0.054, 0.078, 0.062, 0.089, 0.045, 0.074, 0.069, 0.083]
tf_pts_b = [0.074, 0.063, 0.087, 0.057, 0.081, 0.068, 0.096, 0.05, 0.077, 0.07, 0.09, 0.06, 0.106, 0.073, 0.044,
            0.084, 0.066, 0.099, 0.054, 0.079, 0.16, 0.071, 0.092, 0.047, 0.076, 0.062, 0.103, 0.085, 0.058, 0.125,
            0.072, 0.094, 0.052, 0.08, 0.065, 0.159, 0.088, 0.069, 0.101, 0.04, 0.075, 0.083, 0.061, 0.11, 0.067,
            0.078, 0.053, 0.091, 0.127, 0.072, 0.064, 0.086, 0.048, 0.097, 0.077, 0.058, 0.073, 0.089, 0.146,
            0.068, 0.073, 0.066, 0.084, 0.06, 0.078, 0.071, 0.093, 0.054, 0.076, 0.069, 0.088, 0.063, 0.1, 0.074,
            0.05, 0.081, 0.068, 0.095, 0.058, 0.079, 0.07, 0.086, 0.052, 0.075, 0.065, 0.09, 0.061, 0.077, 0.072,
            0.105, 0.067, 0.082, 0.056, 0.08, 0.064, 0.091, 0.047, 0.076, 0.071, 0.085]
tf_pts_c = [0.07, 0.059, 0.083, 0.053, 0.077, 0.064, 0.092, 0.047, 0.073, 0.066, 0.086, 0.056, 0.102, 0.069,
            0.041, 0.08, 0.062, 0.095, 0.051, 0.075, 0.16, 0.067, 0.088, 0.044, 0.072, 0.058, 0.099, 0.081, 0.055,
            0.127, 0.068, 0.09, 0.049, 0.076, 0.061, 0.159, 0.084, 0.065, 0.097, 0.038, 0.071, 0.079, 0.057, 0.106,
            0.063, 0.074, 0.05, 0.087, 0.147, 0.068, 0.06, 0.082, 0.045, 0.093, 0.073, 0.054, 0.069, 0.085, 0.112,
            0.064, 0.069, 0.062, 0.08, 0.056, 0.074, 0.067, 0.089, 0.05, 0.072, 0.065, 0.084, 0.059, 0.096, 0.07,
            0.046, 0.077, 0.064, 0.091, 0.054, 0.075, 0.066, 0.082, 0.048, 0.071, 0.061, 0.086, 0.057, 0.073,
            0.068, 0.1, 0.063, 0.078, 0.052, 0.076, 0.06, 0.087, 0.043, 0.072, 0.067, 0.081]

VIOLINS = [[assort_vio_a, assort_vio_b, assort_vio_c], [apl_vio_a, apl_vio_b, apl_vio_c],
           [cc_vio_a, cc_vio_b, cc_vio_c], [dm_vio_a, dm_vio_b, dm_vio_c],
           [dsd_vio_a, dsd_vio_b, dsd_vio_c], [dens_vio_a, dens_vio_b, dens_vio_c],
           [me_vio_a, me_vio_b, me_vio_c], [tf_vio_a, tf_vio_b, tf_vio_c]]
POINTS = [[assort_pts_a, assort_pts_b, assort_pts_c], [apl_pts_a, apl_pts_b, apl_pts_c],
          [cc_pts_a, cc_pts_b, cc_pts_c], [dm_pts_a, dm_pts_b, dm_pts_c],
          [dsd_pts_a, dsd_pts_b, dsd_pts_c], [dens_pts_a, dens_pts_b, dens_pts_c],
          [me_pts_a, me_pts_b, me_pts_c], [tf_pts_a, tf_pts_b, tf_pts_c]]

# ---------------- layout / style ----------------
FULL_W = 161                      # full panel width (3.2 group units)
W_COLS = [161, 161, 161, 145]     # last column is cut off by the page edge, like the reference
H_ROWS = [158, 160]
STRIP_ROWS = [17, 21]
AXIS_EXT = [34, 34, 34, 45]
FONT = "Liberation Sans"
DARK = "#333333"
GRID = "#EBEBEB"
PX_PER_UNIT = FULL_W / 3.2

cscale = alt.Scale(domain=GROUP_NAMES, range=GROUP_COLORS)


def make_panel(i):
    col, row = i % 4, i // 4
    W, H, STRIP = W_COLS[col], H_ROWS[row], STRIP_ROWS[row]
    open_right = W < FULL_W
    major = Y_MAJOR[i]
    vals = sorted(Y_MAJOR[i] + Y_MINOR[i])
    is_major = f"indexof({json.dumps(major)}, datum.value) >= 0"
    yscale = alt.Scale(domain=Y_DOMAINS[i], nice=False, zero=False)
    xscale = alt.Scale(domain=[0.4, 0.4 + W / PX_PER_UNIT], nice=False, zero=False)
    xaxis = alt.Axis(values=[1, 2, 3], labels=False, ticks=True, tickSize=4, tickColor=DARK, tickWidth=1,
                     domain=False, grid=True, gridColor=GRID, gridWidth=1.1, title=None,
                     minExtent=4, maxExtent=4)
    yaxis = alt.Axis(values=vals, format=Y_FORMAT[i], labelExpr=f"{is_major} ? datum.label : ''",
                     tickOpacity={"condition": {"test": is_major, "value": 1}, "value": 0},
                     gridWidth={"condition": {"test": is_major, "value": 1.1}, "value": 0.55},
                     gridColor=GRID, domain=False, tickColor=DARK, tickSize=4, tickWidth=1,
                     labelFont=FONT, labelFontSize=20, labelColor="#4D4D4D", labelPadding=2,
                     title=None, minExtent=AXIS_EXT[col])

    vrows = [{"g": k + 1, "grp": GROUP_NAMES[k], "v": y, "w": w}
             for k, prof in enumerate(VIOLINS[i]) for (y, w) in prof]
    prows = [{"g": k + 1, "grp": GROUP_NAMES[k], "v": v}
             for k, lst in enumerate(POINTS[i]) for v in lst]
    vdf = pd.DataFrame(vrows)
    pdf = pd.DataFrame(prows)
    tdf = pd.DataFrame({"t": [PANEL_TITLES[i]]})

    violin = alt.Chart(vdf).transform_calculate(
        xl="datum.g - datum.w", xr="datum.g + datum.w"
    ).mark_area(orient="horizontal", stroke=DARK, strokeWidth=0.7, interpolate="monotone",
                opacity=1, clip=open_right).encode(
        y=alt.Y("v:Q", scale=yscale, axis=yaxis),
        x=alt.X("xl:Q", scale=xscale, axis=xaxis, stack=None),
        x2="xr:Q",
        color=alt.Color("grp:N", scale=cscale, legend=None),
    )
    points = alt.Chart(pdf).transform_window(idx="row_number()").transform_calculate(
        jx="datum.g + ((datum.idx * 0.6180339887) % 1 - 0.5) * 0.84"
    ).mark_circle(size=5, color="black", opacity=1, clip=open_right).encode(
        y=alt.Y("v:Q", scale=yscale, axis=yaxis),
        x=alt.X("jx:Q", scale=xscale, axis=xaxis),
    )
    layers = [violin, points]
    if open_right:
        # strip and panel frame without the right edge (cut by the page border)
        layers.append(alt.Chart(tdf).mark_rect(fill="#D9D9D9").encode(
            x=alt.value(0), x2=alt.value(W), y=alt.value(-STRIP), y2=alt.value(0)))
        frame = [((0, -STRIP), (W, -STRIP)), ((0, 0), (W, 0)), ((0, H), (W, H)), ((0, -STRIP), (0, H))]
        for (x1, y1), (x2, y2) in frame:
            layers.append(alt.Chart(tdf).mark_rule(color=DARK, strokeWidth=1.1).encode(
                x=alt.value(x1), x2=alt.value(x2), y=alt.value(y1), y2=alt.value(y2)))
    else:
        layers.append(alt.Chart(tdf).mark_rect(fill="#D9D9D9", stroke=DARK, strokeWidth=1).encode(
            x=alt.value(0), x2=alt.value(W), y=alt.value(-STRIP), y2=alt.value(0)))
    layers.append(alt.Chart(tdf).mark_text(font=FONT, fontSize=12.5, color="#1A1A1A", align="center",
                                           baseline="middle").encode(
        x=alt.value(FULL_W / 2), y=alt.value(-STRIP / 2 + 0.5), text="t:N"))
    props = dict(width=W, height=H)
    if open_right:
        props["view"] = alt.ViewBackground(stroke=None)
    return alt.layer(*layers).properties(**props)


panels = [make_panel(i) for i in range(8)]
chart = alt.ConcatChart(
    concat=panels, columns=4, align="each", bounds="full",
    spacing={"row": -3, "column": 3},
).resolve_scale(x="independent", y="independent").properties(
    padding=0, background="white"
).configure_view(stroke=DARK, strokeWidth=1.1)

chart.save("out.html", embed_options={"renderer": "svg", "actions": False})
